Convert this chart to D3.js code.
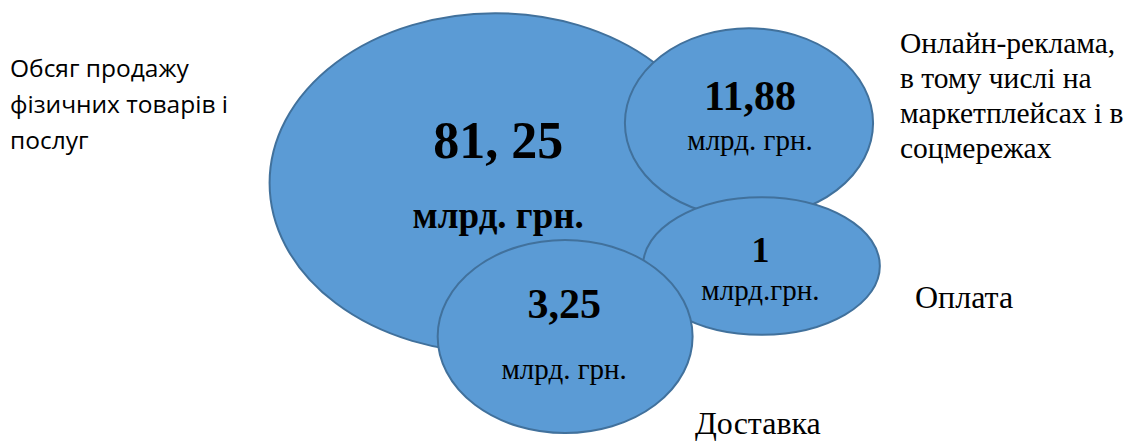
<!DOCTYPE html>
<html>
<head>
<meta charset="utf-8">
<script src="https://cdn.jsdelivr.net/npm/d3@7"></script>
<style>
  body { margin: 0; background: #fff; }
</style>
</head>
<body>
<script>
// values, in billions of hryvnia
const categories = ["Обсяг продажу фізичних товарів і послуг", "Онлайн-реклама, в тому числі на маркетплейсах і в соцмережах", "Оплата", "Доставка"];
const values = [81.25, 11.88, 1, 3.25];
const valueLabels = ["81, 25", "11,88", "1", "3,25"];
const unitLabels = ["млрд. грн.", "млрд. грн.", "млрд.грн.", "млрд. грн."];

// layout of the bubbles in a 0..100 frame (centre x, centre y, radius x, radius y)
const layout = [
  { cx: 43.9, cy: 41.5, rx: 20.0, ry: 38.5 },
  { cx: 66.4, cy: 27.9, rx: 11.0, ry: 21.5 },
  { cx: 67.5, cy: 60.3, rx: 10.5, ry: 15.6 },
  { cx: 50.1, cy: 76.3, rx: 11.3, ry: 21.9 }
];

const width = 1128, height = 441;
const serif = "'Liberation Serif', 'Times New Roman', serif";
const x = d3.scaleLinear().domain([0, 100]).range([0, width]);
const y = d3.scaleLinear().domain([0, 100]).range([0, height]);

const svg = d3.select("body").append("svg")
  .attr("width", width)
  .attr("height", height);

const data = values.map((v, i) => ({ name: categories[i], value: v, label: valueLabels[i], unit: unitLabels[i], ...layout[i] }));

svg.selectAll("ellipse")
  .data(data)
  .enter().append("ellipse")
  .attr("cx", d => x(d.cx))
  .attr("cy", d => y(d.cy))
  .attr("rx", d => x(d.rx))
  .attr("ry", d => y(d.ry))
  .attr("fill", "#5b9bd5")
  .attr("stroke", "#41719c")
  .attr("stroke-width", 2);

// text offsets from the bubble centre, in px
const valueStyle = [
  { dx: 3, dy: -25, size: 52, unitDy: 45, unitSize: 37, unitBold: true },
  { dx: 1, dy: -13, size: 42, unitDy: 27, unitSize: 29, unitBold: false },
  { dx: -1, dy: -4, size: 36, unitDy: 34, unitSize: 29, unitBold: false },
  { dx: -1, dy: -18, size: 42, unitDy: 43, unitSize: 29, unitBold: false }
];

svg.selectAll("text.value")
  .data(data)
  .enter().append("text")
  .attr("class", "value")
  .attr("x", (d, i) => x(d.cx) + valueStyle[i].dx)
  .attr("y", (d, i) => y(d.cy) + valueStyle[i].dy)
  .attr("text-anchor", "middle")
  .attr("font-family", serif)
  .attr("font-weight", "bold")
  .attr("font-size", (d, i) => valueStyle[i].size)
  .text(d => d.label);

svg.selectAll("text.unit")
  .data(data)
  .enter().append("text")
  .attr("class", "unit")
  .attr("x", (d, i) => x(d.cx) + valueStyle[i].dx)
  .attr("y", (d, i) => y(d.cy) + valueStyle[i].unitDy)
  .attr("text-anchor", "middle")
  .attr("font-family", serif)
  .attr("font-weight", (d, i) => valueStyle[i].unitBold ? "bold" : "normal")
  .attr("font-size", (d, i) => valueStyle[i].unitSize)
  .text(d => d.unit);

// outside category labels
const leftLines = ["Обсяг продажу", "фізичних товарів і", "послуг"];
const rightLines = ["Онлайн-реклама,", "в тому числі на", "маркетплейсах і в", "соцмережах"];

svg.append("text")
  .attr("font-family", "Open Sans")
  .attr("font-size", 24.5)
  .attr("fill", "#000")
  .selectAll("tspan")
  .data(leftLines)
  .enter().append("tspan")
  .attr("x", 10)
  .attr("y", (d, i) => 77 + i * 36)
  .text(d => d);

svg.append("text")
  .attr("font-family", serif)
  .attr("font-size", 29.5)
  .selectAll("tspan")
  .data(rightLines)
  .enter().append("tspan")
  .attr("x", 900)
  .attr("y", (d, i) => 53 + i * 35)
  .text(d => d);

svg.append("text")
  .attr("x", 915)
  .attr("y", 308)
  .attr("font-family", serif)
  .attr("font-size", 32)
  .text(categories[2]);

svg.append("text")
  .attr("x", 695)
  .attr("y", 434)
  .attr("font-family", serif)
  .attr("font-size", 32)
  .text(categories[3]);
</script>
</body>
</html>
